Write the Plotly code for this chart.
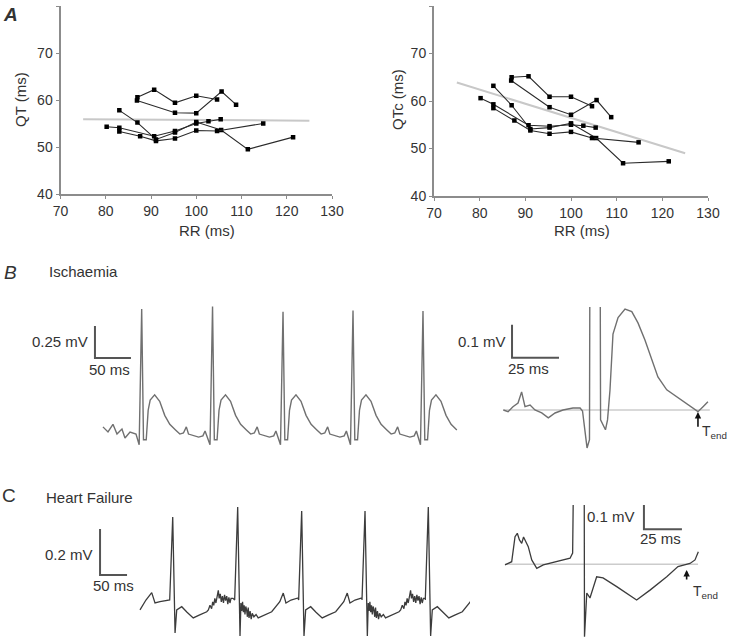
import plotly.graph_objects as go

W, H = 732, 638

# ---------------- panel A : QT / QTc vs RR (one list per heart) ----------------
rr_a = [87.0, 90.7, 95.3, 100.0, 104.6]
qt_a = [60.6, 62.2, 59.4, 60.9, 60.1]
qtc_a = [65.0, 65.2, 60.9, 60.9, 58.9]

rr_b = [86.9, 95.3, 100.0, 105.6, 108.8]
qt_b = [59.9, 57.3, 57.2, 61.8, 59.0]
qtc_b = [64.3, 58.7, 57.1, 60.2, 56.6]

rr_c = [83.0, 87.0, 91.1, 95.3, 100.0, 105.5, 111.4, 121.4]
qt_c = [57.8, 55.2, 51.6, 53.1, 55.3, 53.6, 49.5, 52.1]
qtc_c = [63.2, 59.1, 54.1, 54.4, 55.3, 52.2, 46.9, 47.3]

rr_d = [80.2, 83.0, 90.7, 95.3, 100.0, 102.7, 105.4]
qt_d = [54.3, 54.1, 52.3, 53.4, 55.0, 55.5, 55.9]
qtc_d = [60.6, 59.3, 54.9, 54.7, 55.0, 54.8, 54.4]

rr_e = [83.0, 87.6, 91.1, 95.3, 100.0, 104.6, 114.8]
qt_e = [53.3, 52.3, 51.3, 51.8, 53.5, 53.4, 55.0]
qtc_e = [58.5, 55.9, 53.8, 53.1, 53.5, 52.2, 51.3]

fit_rr = [75, 125]
fit_qt = [55.9, 55.6]
fit_qtc = [63.9, 49.0]

rr_ticks = [70, 80, 90, 100, 110, 120, 130]
qt_ticks = [40, 50, 60, 70, 80]

# ---------------- panel B : ischaemia ECG (ms, mV) ----------------
isch_pre_t = [4.1, 11.1, 18.0, 23.6, 30.5, 34.7, 41.7, 50.0]
isch_pre_v = [0.04, 0.0, 0.06, -0.016, 0.023, -0.047, 0.0, -0.016]
# one beat relative to the R peak (None = R amplitude of that beat)
isch_beat_t = [-3.5, 0, 2.5, 6.3, 9, 11.8, 18, 25, 32, 39, 47, 53, 58, 62, 65, 72, 79, 85, 88]
isch_beat_v = [-0.1, None, -0.06, -0.06, 0.17, 0.25, 0.29, 0.24, 0.13, 0.06, 0.016, -0.016,
               -0.008, 0.04, -0.016, -0.03, -0.04, -0.03, 0.008]
isch_r_times = [57.9, 156.3, 254.2, 351.4, 448.6]
isch_r_amps = [0.96, 0.98, 0.94, 0.95, 0.945]

# averaged ischaemic beat
isch_avg_t = [0.2, 2.7, 5.3, 8.0, 9.9, 11.7, 14.4, 17.0, 20.6, 24.1, 27.7, 31.9, 37.2, 41.0, 42.3,
              44.7, 46.0, 46.3, 51.6, 51.9, 54.5, 55.6, 56.9, 58.5, 61.2, 64.9, 68.5, 71.8, 75.5,
              79.1, 82.4, 87.1, 92.4, 96.8, 101.1, 103.7, 106.4, 109.0]
isch_avg_v = [0.0, -0.005, 0.01, 0.021, 0.055, 0.01, 0.015, 0.0, -0.009, -0.024, -0.009, 0.0, 0.006,
              0.006, -0.003, -0.115, -0.09, 0.64, 0.64, -0.03, -0.06, -0.03, 0.06, 0.23, 0.28, 0.306,
              0.298, 0.264, 0.212, 0.152, 0.1, 0.061, 0.04, 0.021, 0.006, -0.005, 0.01, 0.025]
isch_tend = 103.7

# ---------------- panel C : heart failure ECG (ms, mV) ----------------
hf_pre_t = [0.0, 11.0, 21.7, 27.8, 37.0]
hf_pre_v = [-0.03, 0.013, 0.045, 0.0, 0.006]
hf_head_t = [-5.6, 0, 4.3]
hf_early_clean_t = [7.4, 16.7, 26.5, 38]
hf_early_clean_v = [-0.03, -0.016, -0.04, -0.065]
hf_early_noisy_t = [6, 7.5, 9, 10.5, 12, 13.5, 15, 16.5, 18, 19.5, 21, 23, 25, 27, 30, 34, 38]
hf_early_noisy_v = [0.0, -0.035, 0.005, -0.04, -0.01, -0.05, -0.015, -0.03, -0.06, -0.02, -0.065,
                    -0.035, -0.07, -0.045, -0.06, -0.05, -0.065]
hf_mid_t = [50, 63]
hf_mid_v = [-0.052, -0.038]
hf_late_clean_t = [78, 84.4, 89.4, 98.7, 111.7]
hf_late_clean_v = [0.006, 0.043, 0.0, 0.013, 0.022]
hf_late_noisy_t = [66, 69, 72, 74, 76, 78, 80, 82, 84.4, 86, 88, 90, 92, 94, 96, 98, 100, 102,
                   104, 106, 108, 111.7]
hf_late_noisy_v = [-0.03, -0.01, -0.025, 0.005, -0.01, 0.02, 0.0, 0.03, 0.055, 0.02, 0.04, 0.005,
                   0.03, 0.0, 0.035, 0.01, 0.03, -0.005, 0.025, 0.0, 0.02, 0.02]
hf_r_times = [60.6, 180.9, 299.4, 416.7, 533.9]
hf_r_amps = [0.374, 0.417, 0.4, 0.4, 0.417]
hf_s_depths = [-0.13, -0.143, -0.143, -0.143, -0.143]
hf_noise = [(False, True), (True, False), (False, False), (True, True), (False, False)]

hf_avg_t = [0.0, 4.4, 6.6, 8.1, 9.5, 11.0, 12.2, 13.2, 15.3, 17.6, 20.9, 25.2, 34.0, 42.8, 44.5,
            45.7, 52.0, 52.3, 53.8, 55.9, 60.3, 64.5, 73.5, 86.6, 95.4, 106.4, 113.8, 121.7,
            125.0, 127.2]
hf_avg_v = [-0.002, 0.009, 0.095, 0.107, 0.084, 0.072, 0.094, 0.084, 0.061, 0.015, -0.014, -0.002,
            0.009, 0.021, 0.039, 0.6, 0.6, -0.25, -0.099, -0.116, -0.043, -0.047, -0.077, -0.123,
            -0.089, -0.043, -0.008, 0.003, 0.015, 0.043]
hf_tend = 119.5

FONT = "Liberation Sans, Arial, sans-serif"


def isch_trace():
    t, v = list(isch_pre_t), list(isch_pre_v)
    last = len(isch_r_times) - 1
    for i, (rt, amp) in enumerate(zip(isch_r_times, isch_r_amps)):
        for dt, dv in zip(isch_beat_t, isch_beat_v):
            if i == last and dt > 50:
                break
            t.append(rt + dt)
            v.append(amp if dv is None else dv)
    return t, v


def hf_trace():
    t, v = list(hf_pre_t), list(hf_pre_v)
    last = len(hf_r_times) - 1
    for i, rt in enumerate(hf_r_times):
        early, late = hf_noise[i]
        bt = hf_head_t + (hf_early_noisy_t if early else hf_early_clean_t) + hf_mid_t \
            + (hf_late_noisy_t if late else hf_late_clean_t)
        bv = [0.013, hf_r_amps[i], hf_s_depths[i]] + (hf_early_noisy_v if early else hf_early_clean_v) \
            + hf_mid_v + (hf_late_noisy_v if late else hf_late_clean_v)
        for dt, dv in zip(bt, bv):
            if i == last and dt > 100:
                break
            t.append(rt + dt)
            v.append(dv)
    return t, v


fig = go.Figure()

# ---- scatter panels ----
for k, qvals in ((1, [qt_a, qt_b, qt_c, qt_d, qt_e]), (2, [qtc_a, qtc_b, qtc_c, qtc_d, qtc_e])):
    xa, ya = ("x", "y") if k == 1 else ("x2", "y2")
    fit = fit_qt if k == 1 else fit_qtc
    fig.add_trace(go.Scatter(x=fit_rr, y=fit, mode="lines", xaxis=xa, yaxis=ya,
                             line=dict(color="#c8c8c8", width=2)))
    for rr, q in zip([rr_a, rr_b, rr_c, rr_d, rr_e], qvals):
        fig.add_trace(go.Scatter(x=rr, y=q, mode="lines+markers", xaxis=xa, yaxis=ya,
                                 line=dict(color="#2a2a2a", width=1.1),
                                 marker=dict(symbol="square", size=4.5, color="black")))

# ---- ECG panels ----
ecg_col_b = "#707070"
ecg_col_c = "#3c3c3c"
bar_col = "#555555"

t, v = isch_trace()
fig.add_trace(go.Scatter(x=t, y=v, mode="lines", xaxis="x3", yaxis="y3",
                         line=dict(color=ecg_col_b, width=1.4)))
fig.add_trace(go.Scatter(x=[-7, -7, 43], y=[0.828, 0.578, 0.578], mode="lines", xaxis="x3", yaxis="y3",
                         line=dict(color=bar_col, width=2)))

fig.add_trace(go.Scatter(x=[0, 110], y=[0, 0], mode="lines", xaxis="x4", yaxis="y4",
                         line=dict(color="#cccccc", width=1.5)))
fig.add_trace(go.Scatter(x=isch_avg_t, y=isch_avg_v, mode="lines", xaxis="x4", yaxis="y4",
                         line=dict(color=ecg_col_b, width=1.4)))
fig.add_trace(go.Scatter(x=[4.8, 4.8, 29.8], y=[0.258, 0.158, 0.158], mode="lines", xaxis="x4", yaxis="y4",
                         line=dict(color=bar_col, width=2)))

t, v = hf_trace()
fig.add_trace(go.Scatter(x=t, y=v, mode="lines", xaxis="x5", yaxis="y5",
                         line=dict(color=ecg_col_c, width=1.3)))
fig.add_trace(go.Scatter(x=[-74, -74, -24], y=[0.322, 0.122, 0.122], mode="lines", xaxis="x5", yaxis="y5",
                         line=dict(color=bar_col, width=2)))

fig.add_trace(go.Scatter(x=[0, 127], y=[0, 0], mode="lines", xaxis="x6", yaxis="y6",
                         line=dict(color="#cccccc", width=1.5)))
fig.add_trace(go.Scatter(x=hf_avg_t, y=hf_avg_v, mode="lines", xaxis="x6", yaxis="y6",
                         line=dict(color=ecg_col_c, width=1.3)))
fig.add_trace(go.Scatter(x=[91.4, 91.4, 116.4], y=[0.221, 0.121, 0.121], mode="lines", xaxis="x6", yaxis="y6",
                         line=dict(color=bar_col, width=2)))


def ecg_axes(x0, x1, y0, y1, t0, ppm, base, ppv):
    xa = dict(domain=[x0 / W, x1 / W], range=[(x0 - t0) / ppm, (x1 - t0) / ppm], visible=False)
    ya = dict(domain=[1 - y1 / H, 1 - y0 / H], range=[(base - y1) / ppv, (base - y0) / ppv], visible=False)
    return xa, ya


sc_axis = dict(showline=True, linecolor="#8c8c8c", linewidth=2, ticks="outside", ticklen=3,
               tickcolor="#8c8c8c", showgrid=False, zeroline=False, automargin=False,
               tickfont=dict(family=FONT, size=14, color="#333333"))

x3, y3 = ecg_axes(60, 470, 298, 455, 100, 0.72, 432, 128)
x4, y4 = ecg_axes(465, 712, 307, 455, 503, 1.88, 410, 330)
x5, y5 = ecg_axes(40, 490, 498, 638, 140, 0.54, 603, 230)
x6, y6 = ecg_axes(470, 712, 505, 638, 505, 1.52, 564.3, 290)
for d, a in ((x3, "y3"), (x4, "y4"), (x5, "y5"), (x6, "y6")):
    d["anchor"] = a
for d, a in ((y3, "x3"), (y4, "x4"), (y5, "x5"), (y6, "x6")):
    d["anchor"] = a


def txt(x, y, s, size=15, xanchor="center", xref="paper", yref="paper", **kw):
    return dict(x=x, y=y, text=s, xref=xref, yref=yref, showarrow=False, xanchor=xanchor,
                yanchor="middle", font=dict(family=FONT, size=size, color="#333333"), **kw)


def px(x, y):
    return x / W, 1 - y / H


ann = []
ann.append(txt(*px(10, 14), "<b><i>A</i></b>", size=19))
ann.append(txt(*px(10, 272), "<i>B</i>", size=19))
ann.append(txt(*px(9, 495), "C", size=19))
ann.append(txt(*px(47, 271), "Ischaemia", xanchor="left"))
ann.append(txt(*px(44, 497), "Heart Failure", xanchor="left"))
ann.append(txt(*px(207, 230), "RR (ms)"))
ann.append(txt(*px(582, 230), "RR (ms)"))
ann.append(txt(*px(20, 100), "QT (ms)", textangle=-90))
ann.append(txt(*px(397, 100), "QTc (ms)", textangle=-90))

ann.append(txt(-13.9, 0.71, "0.25 mV", xanchor="right", xref="x3", yref="y3"))
ann.append(txt(12.5, 0.49, "50 ms", xref="x3", yref="y3"))
ann.append(txt(2.7, 0.209, "0.1 mV", xanchor="right", xref="x4", yref="y4"))
ann.append(txt(13.6, 0.127, "25 ms", xref="x4", yref="y4"))
ann.append(txt(-83.3, 0.209, "0.2 mV", xanchor="right", xref="x5", yref="y5"))
ann.append(txt(-50, 0.078, "50 ms", xref="x5", yref="y5"))
ann.append(txt(86.8, 0.164, "0.1 mV", xanchor="right", xref="x6", yref="y6"))
ann.append(txt(102, 0.09, "25 ms", xref="x6", yref="y6"))

ann.append(txt(isch_tend + 1.2, -0.067, "T<sub>end</sub>", size=14, xanchor="left", xref="x4", yref="y4"))
ann.append(txt(hf_tend + 3.0, -0.096, "T<sub>end</sub>", size=14, xanchor="left", xref="x6", yref="y6"))
for xr, yr, tx, tip, tail in (("x4", "y4", isch_tend, -0.006, -0.055), ("x6", "y6", hf_tend, -0.02, -0.058)):
    ann.append(dict(x=tx, y=tip, ax=tx, ay=tail, xref=xr, yref=yr, axref=xr, ayref=yr, text="",
                    showarrow=True, arrowhead=2, arrowsize=0.8, arrowwidth=1.6, arrowcolor="#111111"))

fig.update_layout(
    width=W, height=H, margin=dict(l=0, r=0, t=0, b=0, autoexpand=False),
    paper_bgcolor="white", plot_bgcolor="white", showlegend=False,
    xaxis=dict(sc_axis, domain=[60.5 / W, 332 / W], range=[70, 130], tickvals=rr_ticks, anchor="y"),
    yaxis=dict(sc_axis, domain=[1 - 194 / H, 1 - 6 / H], range=[40, 80], tickvals=qt_ticks, anchor="x"),
    xaxis2=dict(sc_axis, domain=[434 / W, 708 / W], range=[70, 130], tickvals=rr_ticks, anchor="y2"),
    yaxis2=dict(sc_axis, domain=[1 - 196 / H, 1 - 6 / H], range=[40, 80], tickvals=qt_ticks, anchor="x2"),
    xaxis3=x3, yaxis3=y3, xaxis4=x4, yaxis4=y4, xaxis5=x5, yaxis5=y5, xaxis6=x6, yaxis6=y6,
    annotations=ann,
)

# the page body has a default 8px margin; drop it so the figure sits at the window corner
fig.write_html("out.html", config={"displayModeBar": False},
               post_script="document.body.style.margin='0';")
